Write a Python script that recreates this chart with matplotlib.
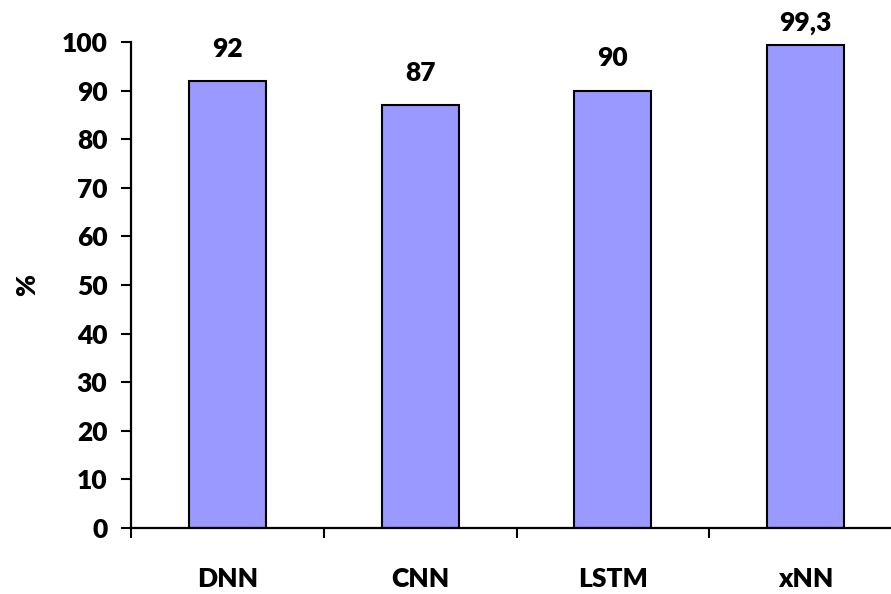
import numpy as np
import matplotlib
matplotlib.use("Agg")
import matplotlib.pyplot as plt

# accuracy of each model, in percent
models = ["DNN", "CNN", "LSTM", "xNN"]
accuracy = [92, 87, 90, 99.3]
value_labels = ["92", "87", "90", "99,3"]
y_ticks = [0, 10, 20, 30, 40, 50, 60, 70, 80, 90, 100]

plt.rcParams['font.family'] = ['Lato', 'DejaVu Sans']
FW = 800
FS = 19

fig = plt.figure(figsize=(8.91, 5.94), dpi=100)
ax = fig.add_axes([131 / 891, 66 / 594, 771 / 891, 486 / 594])

x = np.arange(len(models))
ax.bar(x, accuracy, width=0.4, color='#9999FF', edgecolor='black', linewidth=1.5, zorder=2)

ax.set_xlim(-0.5, len(models) - 0.5)
ax.set_ylim(0, 100)

# category boundaries get the tick marks, centres get the names
ax.set_xticks(np.arange(len(models) + 1) - 0.5)
ax.set_xticklabels([])
ax.set_xticks(x, minor=True)
ax.set_xticklabels(models, minor=True, fontsize=FS, fontweight=FW)
ax.tick_params(axis='x', which='major', direction='out', length=7, width=1.5)
ax.tick_params(axis='x', which='minor', length=0, pad=28)

ax.set_yticks(y_ticks)
ax.set_yticklabels([str(t) for t in y_ticks], fontsize=FS, fontweight=FW)
ax.tick_params(axis='y', direction='out', length=7, width=1.5, pad=10)

for side in ['top', 'right']:
    ax.spines[side].set_visible(False)
for side in ['left', 'bottom']:
    ax.spines[side].set_linewidth(1.6)

ax.set_ylabel('%', fontsize=FS, fontweight=FW, labelpad=16)

# value above each bar, kept inside the top margin
for xi, v, lab in zip(x, accuracy, value_labels):
    ax.text(xi, min(v + 5, 102.3), lab, ha='center', va='baseline',
            fontsize=FS, fontweight=FW, clip_on=False)

fig.savefig('out.png', dpi=100)
